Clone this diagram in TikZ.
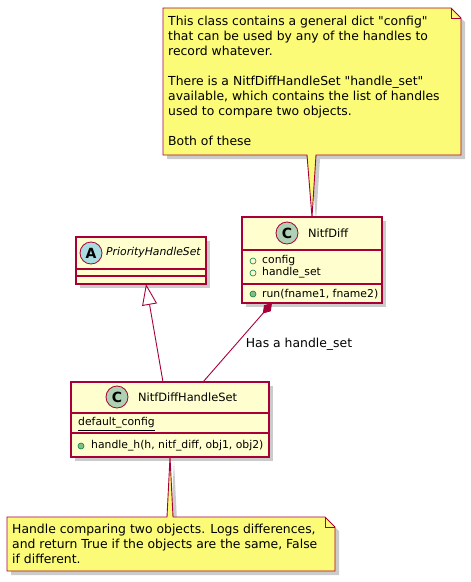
\documentclass[tikz,border=0pt]{standalone}
\usepackage{fontspec}
\setmainfont{DejaVu Sans}[Ligatures=TeXOff]
\usetikzlibrary{arrows.meta,shadows}
\definecolor{bord}{HTML}{A80036}
\definecolor{clsfill}{HTML}{FEFECE}
\definecolor{notefill}{HTML}{FBFB77}
\definecolor{cfill}{HTML}{ADD1B2}
\definecolor{afill}{HTML}{A9DCDF}
\definecolor{dotfill}{HTML}{84BE84}
\definecolor{dotdraw}{HTML}{038048}
\tikzset{
  shadowed/.style={drop shadow={shadow xshift=4pt,shadow yshift=-4pt,fill=black!45,opacity=0.45}},
  classbox/.style={draw=bord,fill=clsfill,line width=1.3pt,inner sep=0pt,outer sep=0pt,shadowed},
  divider/.style={draw=bord,line width=1.2pt},
  circ/.style={circle,draw=bord,line width=0.8pt,minimum size=22pt,inner sep=0pt,font=\fontsize{14}{14}\selectfont\bfseries},
  clsname/.style={anchor=west,inner sep=0pt,font=\fontsize{11.4}{13}\selectfont},
  member/.style={anchor=west,inner sep=0pt,font=\fontsize{10.8}{12}\selectfont},
  opendot/.style={circle,draw=dotdraw,line width=0.6pt,minimum size=6pt,inner sep=0pt},
  filldot/.style={circle,draw=dotdraw,fill=dotfill,line width=0.6pt,minimum size=6pt,inner sep=0pt},
  notebox/.style={draw=bord,fill=notefill,line width=0.9pt,line join=miter,shadowed},
  notetext/.style={anchor=north west,inner sep=0pt,align=left,font=\fontsize{12.4}{15}\selectfont},
  conn/.style={draw=bord,line width=0.9pt},
}
\begin{document}
\begin{tikzpicture}[x=1pt,y=-1pt]
\useasboundingbox (0,0) rectangle (471,582);

% ---------- top note ----------
\path[notebox] (163,8) -- (451,8) -- (461,18) -- (461,155) -- (316,155) -- (312,217) -- (307,155) -- (163,155) -- cycle;
\draw[bord,line width=0.9pt] (451,8) -- (451,18) -- (461,18);
\node[notetext] (note1) at (168,16) {This class contains a general dict "config"\\that can be used by any of the handles to\\record whatever.\\[15pt]There is a NitfDiffHandleSet "handle\_set"\\available, which contains the list of handles\\used to compare two objects.\\[15pt]Both of these};

% ---------- NitfDiff ----------
\node[classbox,minimum width=140pt,minimum height=86pt] (nitfdiff) at (312,260) {};
\draw[divider] (242,250) -- (382,250);
\draw[divider] (242,284) -- (382,284);
\node[circ,fill=cfill] (ndc) at (287,233) {C};
\node[clsname] (ndname) at (308,233) {NitfDiff};
\node[opendot] (d1) at (253,261) {};
\node[member] (m1) at (262,261) {config};
\node[opendot] (d2) at (253,273) {};
\node[member] (m2) at (262,273) {handle\_set};
\node[filldot] (d3) at (253,294) {};
\node[member] (m3) at (262,294) {run(fname1, fname2)};

% ---------- PriorityHandleSet ----------
\node[classbox,minimum width=130pt,minimum height=47pt] (phs) at (141,260.5) {};
\draw[divider] (76,269) -- (206,269);
\draw[divider] (76,276) -- (206,276);
\node[circ,fill=afill] (phsa) at (91,253) {A};
\node[clsname,font=\fontsize{10.8}{13}\selectfont\itshape] (phsname) at (106,253) {PriorityHandleSet};

% ---------- NitfDiffHandleSet ----------
\node[classbox,minimum width=198pt,minimum height=75pt] (nhs) at (170,419.5) {};
\draw[divider] (71,413) -- (269,413);
\draw[divider] (71,433) -- (269,433);
\node[circ,fill=cfill] (nhsc) at (117,397) {C};
\node[clsname] (nhsname) at (138,397) {NitfDiffHandleSet};
\node[member] (m4) at (78,424) {\underline{default\_config}};
\node[filldot] (d4) at (81,446) {};
\node[member] (m5) at (91,446) {handle\_h(h, nitf\_diff, obj1, obj2)};

% ---------- bottom note ----------
\path[notebox] (7,517) -- (167,517) -- (170,457) -- (173,517) -- (325,517) -- (335,527) -- (335,571) -- (7,571) -- cycle;
\draw[bord,line width=0.9pt] (325,517) -- (325,527) -- (335,527);
\node[notetext] (note2) at (12,524) {Handle comparing two objects. Logs differences,\\and return True if the objects are the same, False\\if different.};

% ---------- connectors ----------
\draw[conn,-{Triangle[open,length=21pt,width=15pt,fill=white]}] (nhs.north -| 163,0) -- (phs.south -| 146,0);
\draw[conn,{Diamond[length=14pt,width=9pt]}-] (nitfdiff.south -| 272,0) -- (nhs.north -| 203,0);
\node[inner sep=0pt,font=\fontsize{12.4}{14}\selectfont] (lbl) at (299,344) {Has a handle\_set};
\end{tikzpicture}
\end{document}
